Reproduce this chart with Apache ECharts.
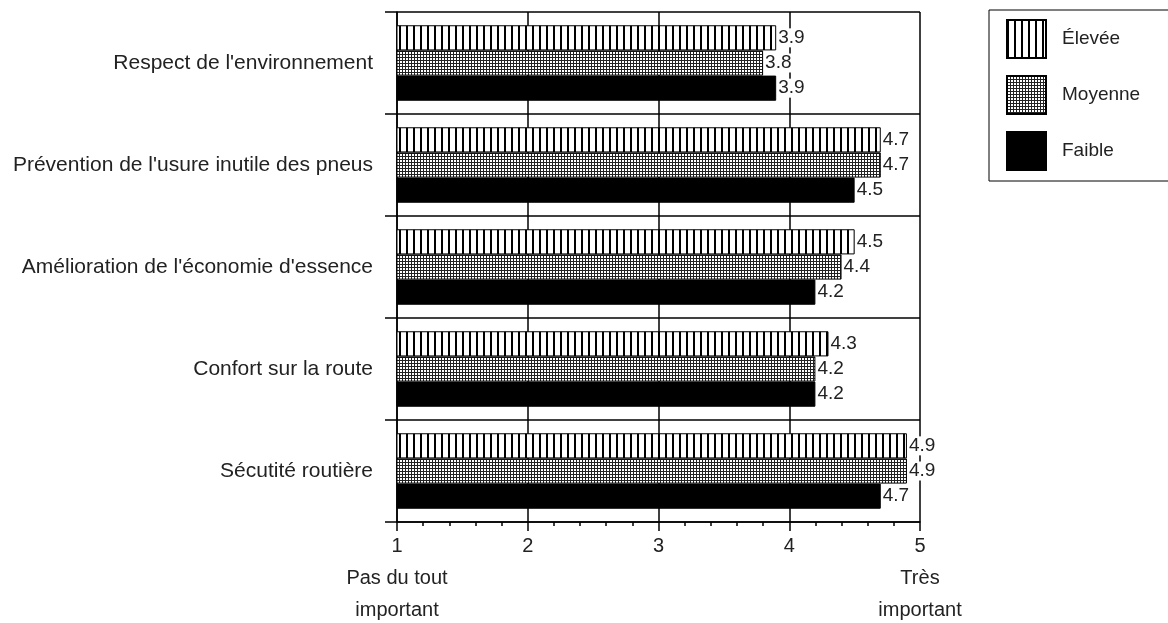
<!DOCTYPE html>
<html><head><meta charset="utf-8">
<script src="https://cdn.jsdelivr.net/npm/echarts@6/dist/echarts.min.js"></script>
<style>html,body{margin:0;padding:0;background:#fff}#c{width:1168px;height:623px}</style>
</head><body><div id="c"></div>
<script>
const categories = ["Respect de l'environnement", "Prévention de l'usure inutile des pneus", "Amélioration de l'économie d'essence", "Confort sur la route", "Sécutité routière"];
const seriesNames = ["Élevée", "Moyenne", "Faible"];
const eleveeValues = [3.9, 4.7, 4.5, 4.3, 4.9];
const moyenneValues = [3.8, 4.7, 4.4, 4.2, 4.9];
const faibleValues = [3.9, 4.5, 4.2, 4.2, 4.7];
const tickLabels = {1: "1\nPas du tout\nimportant", 2: "2", 3: "3", 4: "4", 5: "5\nTrès\nimportant"};

const FONT = "'Liberation Sans', Arial, sans-serif";

function stripes() {
  const c = document.createElement('canvas'); c.width = 7; c.height = 4;
  const g = c.getContext('2d'); g.fillStyle = '#fff'; g.fillRect(0,0,7,4);
  g.fillStyle = '#000'; g.fillRect(0,0,2,4); return c;
}
function mesh() {
  const c = document.createElement('canvas'); c.width = 3; c.height = 3;
  const g = c.getContext('2d'); g.fillStyle = '#fff'; g.fillRect(0,0,3,3);
  g.fillStyle = '#222'; g.fillRect(0,0,3,1); g.fillRect(0,0,1,3); return c;
}
const fills = [{image: stripes(), repeat: 'repeat'}, {image: mesh(), repeat: 'repeat'}, '#000'];
const values = [eleveeValues, moyenneValues, faibleValues];

const chart = echarts.init(document.getElementById('c'));
chart.setOption({
  animation: false,
  textStyle: {fontFamily: FONT},
  grid: {left: 397, right: 248, top: 12, bottom: 101, containLabel: false, outerBoundsMode: 'none'},
  legend: {
    orient: 'vertical', left: 989, top: 10, icon: 'rect',
    padding: [9, 70, 10, 17], itemGap: 16, itemWidth: 39, itemHeight: 38,
    borderColor: '#000', borderWidth: 1,
    textStyle: {fontFamily: FONT, fontSize: 19, color: '#222', padding: [0,0,0,11]},
    data: seriesNames
  },
  xAxis: {
    type: 'value', min: 1, max: 5, interval: 1,
    axisLine: {show: true, lineStyle: {color: '#000', width: 1.5}},
    axisTick: {show: true, length: 9, lineStyle: {color: '#000', width: 1.5}},
    minorTick: {show: true, splitNumber: 5, length: 4, lineStyle: {color: '#000', width: 1.5}},
    splitLine: {show: true, lineStyle: {color: '#000', width: 1.5}},
    axisLabel: {fontFamily: FONT, fontSize: 20, color: '#222', lineHeight: 32, margin: 8,
      formatter: v => tickLabels[v] || String(v)}
  },
  yAxis: {
    type: 'category', data: categories, inverse: true,
    axisLine: {show: true, lineStyle: {color: '#000', width: 1.5}},
    axisTick: {show: true, length: 12, lineStyle: {color: '#000', width: 1.5}},
    splitLine: {show: true, lineStyle: {color: '#000', width: 1.5}},
    axisLabel: {fontFamily: FONT, fontSize: 21, color: '#222', margin: 24}
  },
  series: seriesNames.map((n, i) => ({
    name: n, type: 'bar', data: values[i],
    barGap: '0%', barCategoryGap: '26%',
    itemStyle: {color: fills[i], borderColor: '#000', borderWidth: 1},
    label: {show: true, position: 'right', distance: 1, fontFamily: FONT, fontSize: 19, color: '#222',
      backgroundColor: '#fff', padding: [0, 1, 0, 1],
      formatter: p => p.value.toFixed(1)}
  }))
});
</script></body></html>
